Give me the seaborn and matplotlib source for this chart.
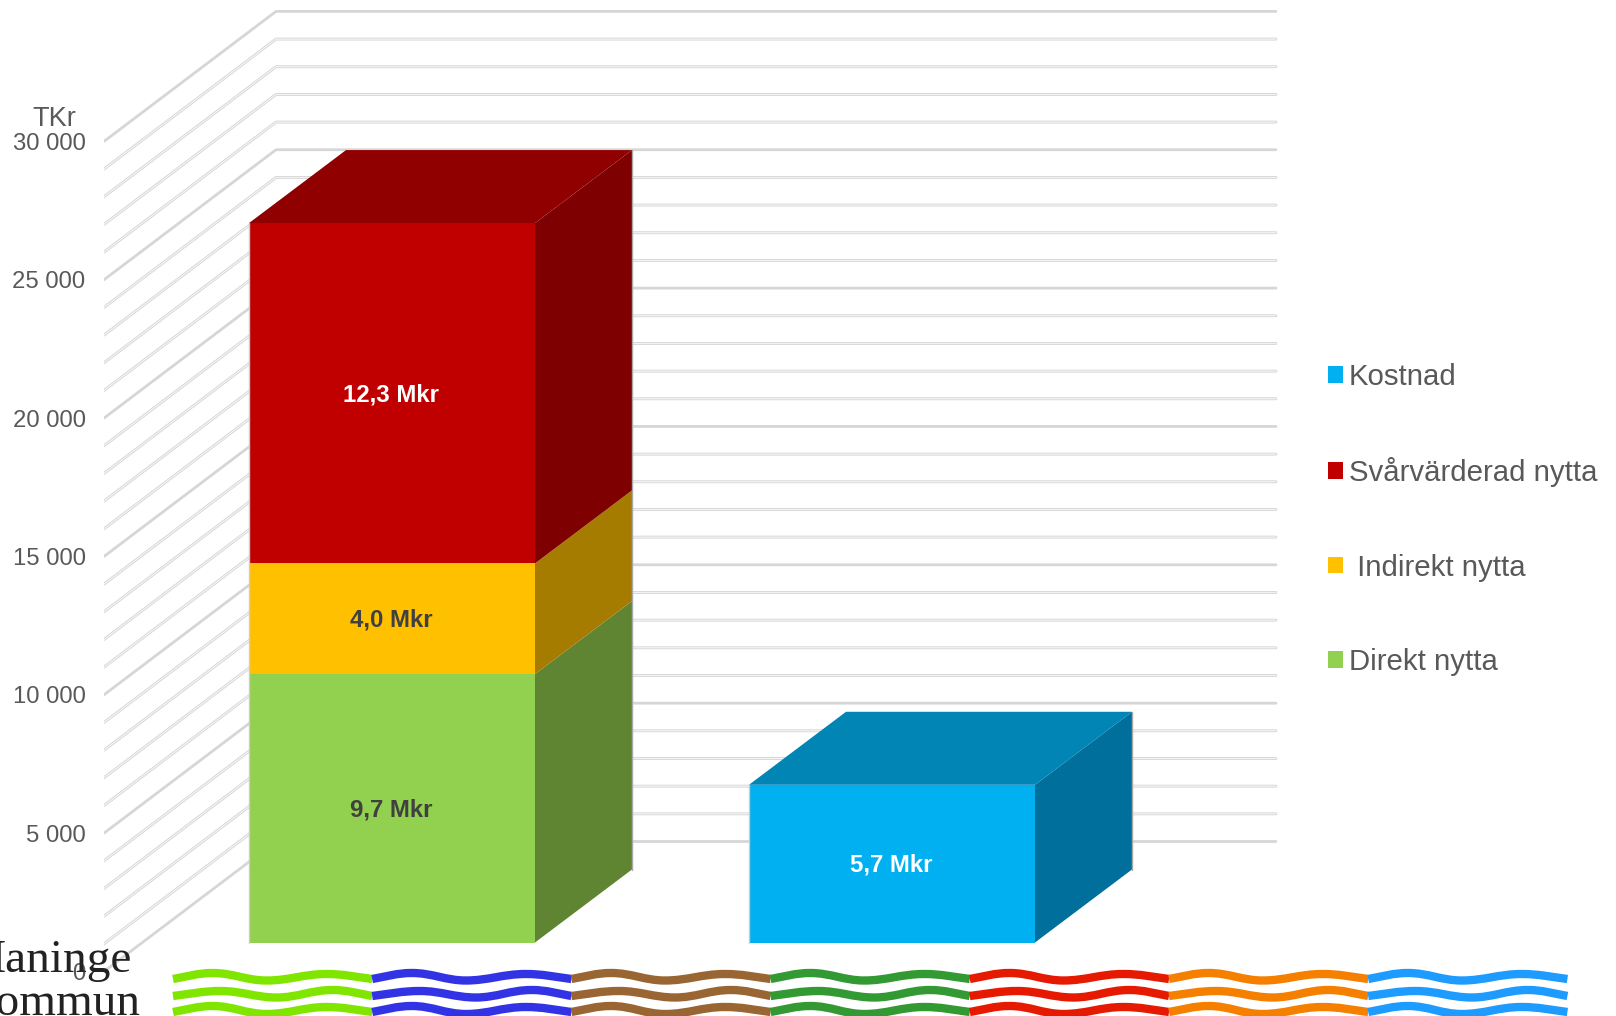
import numpy as np
import matplotlib
matplotlib.use('Agg')
import matplotlib.pyplot as plt
from matplotlib.patches import Patch, Polygon, PathPatch
from matplotlib.path import Path
import seaborn as sns

sns.set_theme(style='white')
plt.rcParams['font.family'] = ['Liberation Sans', 'DejaVu Sans']

# data
categories = ['Nytta', 'Kostnad']
direkt = [9700, 0]
indirekt = [4000, 0]
svarvarderad = [12300, 0]
kostnad = [0, 5700]
bar_labels = [['9,7 Mkr', ''], ['4,0 Mkr', ''], ['12,3 Mkr', ''], ['', '5,7 Mkr']]
label_colors = ['#404040', '#404040', 'white', 'white']
ticks = [0, 5000, 10000, 15000, 20000, 25000, 30000]
tick_labels = ['0', '5 000', '10 000', '15 000', '20 000', '25 000', '30 000']
minor_ticks = list(range(0, 31000, 1000))

front_colors = ['#92D050', '#FFC000', '#C00000', '#00B0F0']
side_colors = ['#5F8533', '#A67C00', '#7E0000', '#006F9B']
top_colors = ['#5F8533', '#A67C00', '#900000', '#0085B5']
legend_names = ['Kostnad', 'Svårvärderad nytta', ' Indirekt nytta', 'Direkt nytta']
legend_colors = ['#00B0F0', '#C00000', '#FFC000', '#92D050']

# logo waves, fractions along a segment and pixel heights per row
wave_colors = ['#80E600', '#3333E6', '#996633', '#339933', '#E61A00', '#F58000', '#1E9BFF']
wave_x = [[0, 0.2, 0.47, 0.77, 1],
          [0, 0.24, 0.52, 0.8, 1],
          [0, 0.2, 0.47, 0.77, 1]]
wave_rows = [[979, 973, 980.5, 974, 979],
             [996, 991, 997.5, 990, 996],
             [1012, 1006, 1014, 1007, 1012]]

W, H = 1616, 1016
PX_PER_UNIT = 27.67 / 1000
PX_PER_CAT = 500
X0 = 392

fig = plt.figure(figsize=(W / 100, H / 100), dpi=100, facecolor='white')

# wall and floor grid, front plane has zero at pixel 971
wall_left = 104
ax_wall = fig.add_axes([wall_left / W, 0, 1 - wall_left / W, 1], zorder=1)
ax_wall.set_xlim((wall_left - X0) / PX_PER_CAT, (W - X0) / PX_PER_CAT)
ax_wall.set_ylim((971.5 - H) / PX_PER_UNIT, 971.5 / PX_PER_UNIT)
grid_x0 = (wall_left - X0) / PX_PER_CAT
grid_dx = 172 / PX_PER_CAT
grid_dy = 130 / PX_PER_UNIT
grid_x1 = (1276 - X0) / PX_PER_CAT
for v in minor_ticks:
    xs = [grid_x0, grid_x0 + grid_dx, grid_x1]
    ys = [v, v + grid_dy, v + grid_dy]
    if v % 5000 == 0:
        ax_wall.plot(xs, ys, color='#d6d6d6', lw=2.0, solid_capstyle='round')
    else:
        ax_wall.plot(xs, ys, color='#cfcfcf', lw=2.0, solid_capstyle='round')
        ax_wall.plot(xs, ys, color='#f3f3f3', lw=1.0, solid_capstyle='round')
ax_wall.set_yticks(ticks)
ax_wall.set_yticklabels(tick_labels, fontsize=17.2, color='#595959')
ax_wall.set_xticks([])
ax_wall.tick_params(axis='y', length=0, pad=13.3)
sns.despine(ax=ax_wall, left=True, bottom=True)
ax_wall.patch.set_alpha(0)
ax_wall.text((76.5 - X0) / PX_PER_CAT, (971.5 - 118.5) / PX_PER_UNIT, 'TKr', ha='right', va='center',
             fontsize=19.5, color='#595959', clip_on=False)

# bars, front plane has zero at pixel 942
ax = fig.add_axes([0, 0, 1, 1], zorder=2)
ax.patch.set_alpha(0)
bottom = np.zeros(2)
series = [direkt, indirekt, svarvarderad, kostnad]
for values, color in zip(series, front_colors):
    sns.barplot(x=categories, y=values, bottom=bottom, color=color, width=0.572, saturation=1,
                linewidth=0, order=categories, ax=ax)
    bottom = bottom + np.array(values)
ax.set_xlim(-X0 / PX_PER_CAT, (W - X0) / PX_PER_CAT)
ax.set_ylim((942.5 - H) / PX_PER_UNIT, 942.5 / PX_PER_UNIT)

depth_x = 97 / PX_PER_CAT
depth_y = 73 / PX_PER_UNIT
for i, container in enumerate(ax.containers):
    for j, bar in enumerate(container):
        if bar.get_height() == 0:
            continue
        x0, x1 = bar.get_x(), bar.get_x() + bar.get_width()
        y0, y1 = bar.get_y(), bar.get_y() + bar.get_height()
        ax.plot([x0, x0], [y0, y1], color='#cccccc', lw=1.0, zorder=3)
        ax.add_patch(Polygon([(x1, y0), (x1 + depth_x, y0 + depth_y), (x1 + depth_x, y1 + depth_y), (x1, y1)],
                             facecolor=side_colors[i], edgecolor='none', zorder=3))
        ax.plot([x1 + depth_x, x1 + depth_x], [y0 + depth_y, y1 + depth_y], color='#a8a8a8', lw=1.0, zorder=3)
        if series[i][j] and i in (2, 3):
            ax.add_patch(Polygon([(x0, y1), (x1, y1), (x1 + depth_x, y1 + depth_y), (x0 + depth_x, y1 + depth_y)],
                                 facecolor=top_colors[i], edgecolor='none', zorder=3))
        ax.text((x0 + x1) / 2 - 0.002, (y0 + y1) / 2 - 60, bar_labels[i][j], ha='center', va='center',
                fontsize=17.3, fontweight='bold', color=label_colors[i], zorder=4)

handles = [Patch(facecolor=c, edgecolor='none') for c in legend_colors]
ax.legend(handles, legend_names, loc='upper left', bbox_to_anchor=(1328 / W, 1 - 363 / H),
          frameon=False, fontsize=21.2, labelcolor='#595959', handlelength=0.5, handleheight=0.5,
          handletextpad=0.2, labelspacing=2.25, borderpad=0, borderaxespad=0)
ax.axis('off')
ax.legend_.set_visible(True)

# logo strip along the bottom, in pixels
ax_logo = fig.add_axes([0, 0, 1, 1], zorder=3)
ax_logo.set_xlim(0, W)
ax_logo.set_ylim(H, 0)
ax_logo.axis('off')
seg_w = 199.2
for k, color in enumerate(wave_colors):
    x_start = 173 + k * seg_w
    for fr, row in zip(wave_x, wave_rows):
        xs = [x_start + f * seg_w for f in fr]
        verts = [(xs[0], row[0])]
        codes = [Path.MOVETO]
        for a in range(4):
            gap = xs[a + 1] - xs[a]
            y_a = row[a] if a > 0 else row[0] + (row[1] - row[0]) * 0.45
            y_b = row[a + 1] if a < 3 else row[4] + (row[3] - row[4]) * 0.45
            verts += [(xs[a] + gap * 0.38, y_a), (xs[a + 1] - gap * 0.38, y_b), (xs[a + 1], row[a + 1])]
            codes += [Path.CURVE4] * 3
        ax_logo.add_patch(PathPatch(Path(verts, codes), facecolor='none', edgecolor=color, lw=6.0,
                                    capstyle='butt'))
ax_logo.text(132, 972, 'Haninge', family='Liberation Serif', fontsize=34, color='#222222',
             ha='right', va='baseline')
ax_logo.text(140, 1015, 'kommun', family='Liberation Serif', fontsize=34, color='#222222',
             ha='right', va='baseline')

fig.savefig('out.png', dpi=100)
